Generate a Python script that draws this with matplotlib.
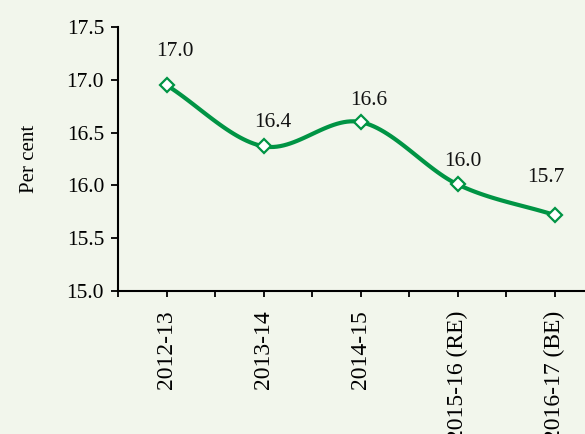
import matplotlib
matplotlib.use('Agg')
import matplotlib.pyplot as plt
import numpy as np

# data
years = ['2012-13', '2013-14', '2014-15', '2015-16 (RE)', '2016-17 (BE)']
share = [16.95, 16.37, 16.60, 16.01, 15.72]
labels = ['17.0', '16.4', '16.6', '16.0', '15.7']

bg = '#f2f6ec'
green = '#009444'

plt.rcParams['font.family'] = ['Liberation Serif', 'DejaVu Serif']


def smooth(x, y, n=30):
    # catmull-rom through the points, like the spreadsheet "smoothed line"
    x = np.asarray(x, float)
    y = np.asarray(y, float)
    px = np.concatenate([[2*x[0]-x[1]], x, [2*x[-1]-x[-2]]])
    py = np.concatenate([[2*y[0]-y[1]], y, [2*y[-1]-y[-2]]])
    xs, ys = [], []
    t = np.linspace(0, 1, n)
    for i in range(1, len(px)-2):
        for p, out in ((px, xs), (py, ys)):
            p0, p1, p2, p3 = p[i-1], p[i], p[i+1], p[i+2]
            out.extend(0.5*((2*p1) + (-p0+p2)*t + (2*p0-5*p1+4*p2-p3)*t**2
                            + (-p0+3*p1-3*p2+p3)*t**3))
    return np.array(xs), np.array(ys)


fig = plt.figure(figsize=(5.85, 4.34), dpi=100, facecolor=bg)
ax = fig.add_axes([118/585, 1-291/434, 485/585, 264/434])
ax.set_facecolor(bg)

xpos = np.arange(len(years))
sx, sy = smooth(xpos, share)
ax.plot(sx, sy, color=green, lw=3, solid_capstyle='round', zorder=2)
ax.plot(xpos, share, ls='none', marker='D', ms=7.5, mfc='white', mec=green, mew=1.6, zorder=3)

# data labels (pixel offsets from the points)
offs = [(8, 34), (9, 24), (8, 22), (5, 23), (-9, 37)]
for x, y, t, o in zip(xpos, share, labels, offs):
    ax.annotate(t, (x, y), xytext=o, textcoords='offset pixels',
                ha='center', va='center', fontsize=15.5, color='#111111')

ax.set_xlim(-0.5, 4.5)
ax.set_ylim(15.0, 17.5)
ax.set_yticks(np.arange(15.0, 17.51, 0.5))
ax.set_yticklabels(['%.1f' % v for v in np.arange(15.0, 17.51, 0.5)], fontsize=15.5)
ax.set_xticks(xpos)
ax.set_xticklabels(years, rotation=90, fontsize=17)
ax.set_xticks(np.arange(-0.5, 4.6, 1.0), minor=True)
ax.tick_params(axis='x', which='both', direction='out', length=4, width=1.3, pad=10)
ax.tick_params(axis='y', direction='out', length=5, width=1.3, pad=5)
ax.set_ylabel('Per cent', fontsize=15, labelpad=20)

for s in ['top', 'right']:
    ax.spines[s].set_visible(False)
for s in ['left', 'bottom']:
    ax.spines[s].set_linewidth(1.5)

fig.savefig('out.png', dpi=100, facecolor=bg)
